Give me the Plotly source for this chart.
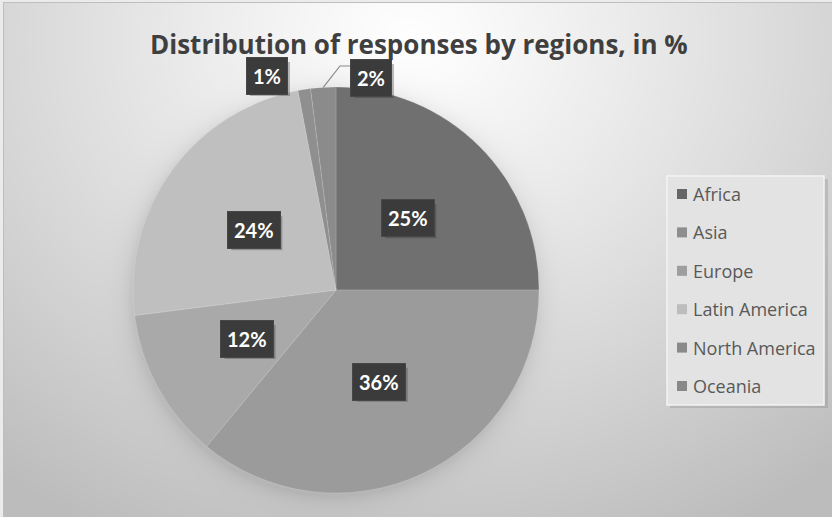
import base64
import struct
import zlib

import numpy as np
import plotly.graph_objects as go

# ---- data -------------------------------------------------------------
regions = ["Africa", "Asia", "Europe", "Latin America", "North America", "Oceania"]
shares = [25, 36, 12, 24, 1, 2]
slice_colors = ["#707070", "#9b9b9b", "#a9a9a9", "#bfbfbf", "#8f8f8f", "#8b8b8b"]
swatch_colors = ["#666666", "#8e8e8e", "#9e9e9e", "#bdbdbd", "#8a8a8a", "#888888"]
title_text = "Distribution of responses by regions, in %"

# ---- geometry (pixels) -------------------------------------------------
W, H = 832, 517
CX, CY, R = 336, 290, 203          # pie centre and radius
# labels of thin slices sit outside the pie
outside_label_pos = {"North America": (267, 76), "Oceania": (371, 78)}


def px(x, y):
    """Pixel position -> paper coordinates."""
    return x / W, 1 - y / H


def gray_png_uri(arr):
    arr = np.clip(arr, 0, 255).astype(np.uint8)
    h, w = arr.shape
    raw = b"".join(b"\x00" + arr[i].tobytes() for i in range(h))

    def chunk(tag, data):
        c = struct.pack(">I", len(data)) + tag + data
        return c + struct.pack(">I", zlib.crc32(tag + data) & 0xFFFFFFFF)

    png = b"\x89PNG\r\n\x1a\n"
    png += chunk(b"IHDR", struct.pack(">IIBBBBB", w, h, 8, 0, 0, 0, 0))
    png += chunk(b"IDAT", zlib.compress(raw, 9))
    png += chunk(b"IEND", b"")
    return "data:image/png;base64," + base64.b64encode(png).decode()


# background: soft radial gradient with a faint shadow around the pie
yy, xx = np.mgrid[0:H, 0:W].astype(float)
d = np.hypot((xx - 410) / 1.0, (yy - 40) / 0.85)
bg = 255 - 66 * np.clip(d / 650, 0, 1) ** 1.1
dp = np.hypot(xx - (CX - 2), yy - (CY + 3))
shadow = 20 * np.exp(-np.clip(dp - R, 0, None) / 10.0)
bg = bg - shadow
# thin frame
bg[2, 3:] = 190
bg[2:, 3] = 190
bg[:2, :] = 235
bg[:, :3] = 235
bg_uri = gray_png_uri(bg)

fig = go.Figure()

x0, y1 = px(CX - R, CY - R)
x1, y0 = px(CX + R, CY + R)
fig.add_trace(
    go.Pie(
        labels=regions,
        values=shares,
        sort=False,
        direction="clockwise",
        rotation=0,
        marker=dict(colors=slice_colors, line=dict(color="rgba(255,255,255,0.25)", width=0.6)),
        textinfo="none",
        hoverinfo="label+percent",
        showlegend=False,
        domain=dict(x=[x0, x1], y=[y0, y1]),
    )
)

annotations = []
shapes = []

# value labels (dark boxes with white bold text)
total = float(sum(shares))
cum = 0.0
for name, val in zip(regions, shares):
    mid = (cum + val / 2) / total * 2 * np.pi
    cum += val
    label = f"{val}%"
    if name in outside_label_pos:
        lx, ly = outside_label_pos[name]
    else:
        lx = CX + 0.5 * R * np.sin(mid)
        ly = CY - 0.5 * R * np.cos(mid)
    ax, ay = px(lx, ly)
    # drop shadow behind the box
    half_w = 5.5 * len(label) + 9
    s0 = px(lx - half_w + 3, ly - 17 + 3)
    s1 = px(lx + half_w + 3, ly + 17 + 3)
    shapes.append(dict(type="rect", xref="paper", yref="paper",
                       x0=s0[0], x1=s1[0], y0=s1[1], y1=s0[1],
                       fillcolor="rgba(40,40,40,0.30)", line=dict(width=0)))
    annotations.append(dict(
        x=ax, y=ay, xref="paper", yref="paper", xanchor="center", yanchor="middle",
        text=f"<b>{label}</b>", showarrow=False,
        font=dict(family="Lato", size=20, color="white"),
        bgcolor="#3b3b3b", bordercolor="#474747", borderwidth=1, borderpad=6,
    ))
    if name == "Oceania":
        ex = CX + R * np.sin(mid)
        ey = CY - R * np.cos(mid)
        p0 = px(lx - 21, ly - 12)
        p1 = px(lx - 31, ly - 12)
        p2 = px(ex, ey)
        shapes.append(dict(
            type="path", xref="paper", yref="paper",
            path=f"M {p0[0]} {p0[1]} L {p1[0]} {p1[1]} L {p2[0]} {p2[1]}",
            line=dict(color="#8a8a8a", width=1.2),
        ))

# legend box
lb = dict(x0=667, x1=824, y0=176, y1=405)
sx0, sy1 = px(lb["x0"] + 3, lb["y0"] + 3)
sx1, sy0 = px(lb["x1"] + 4, lb["y1"] + 3)
shapes.append(dict(type="rect", xref="paper", yref="paper", x0=sx0, x1=sx1, y0=sy0, y1=sy1,
                   fillcolor="rgba(120,120,120,0.25)", line=dict(width=0), layer="below"))
bx0, by1 = px(lb["x0"], lb["y0"])
bx1, by0 = px(lb["x1"], lb["y1"])
shapes.append(dict(type="rect", xref="paper", yref="paper", x0=bx0, x1=bx1, y0=by0, y1=by1,
                   fillcolor="#e3e3e3", line=dict(color="#f3f3f3", width=1.5), layer="below"))

for i, (name, col) in enumerate(zip(regions, swatch_colors)):
    cy = 194 + 38.4 * i
    q0 = px(677, cy - 5)
    q1 = px(687, cy + 5)
    shapes.append(dict(type="rect", xref="paper", yref="paper",
                       x0=q0[0], x1=q1[0], y0=q1[1], y1=q0[1],
                       fillcolor=col, line=dict(width=0)))
    tx, ty = px(691, cy)
    annotations.append(dict(
        x=tx, y=ty, xref="paper", yref="paper", xanchor="left", yanchor="middle",
        text=name, showarrow=False,
        font=dict(family="Open Sans", size=18, color="#595959"),
    ))

# title
tx, ty = px(419, 44)
annotations.append(dict(
    x=tx, y=ty, xref="paper", yref="paper", xanchor="center", yanchor="middle",
    text=f"<b>{title_text}</b>", showarrow=False,
    font=dict(family="Open Sans", size=26, color="#3f3f3f"),
))

fig.update_layout(
    width=W, height=H,
    margin=dict(l=0, r=0, t=0, b=0),
    paper_bgcolor="#d8d8d8",
    plot_bgcolor="rgba(0,0,0,0)",
    showlegend=False,
    images=[dict(source=bg_uri, xref="paper", yref="paper", x=0, y=1,
                 sizex=1, sizey=1, sizing="stretch", layer="below",
                 xanchor="left", yanchor="top")],
    annotations=annotations,
    shapes=shapes,
)

fig.write_html("out.html")
